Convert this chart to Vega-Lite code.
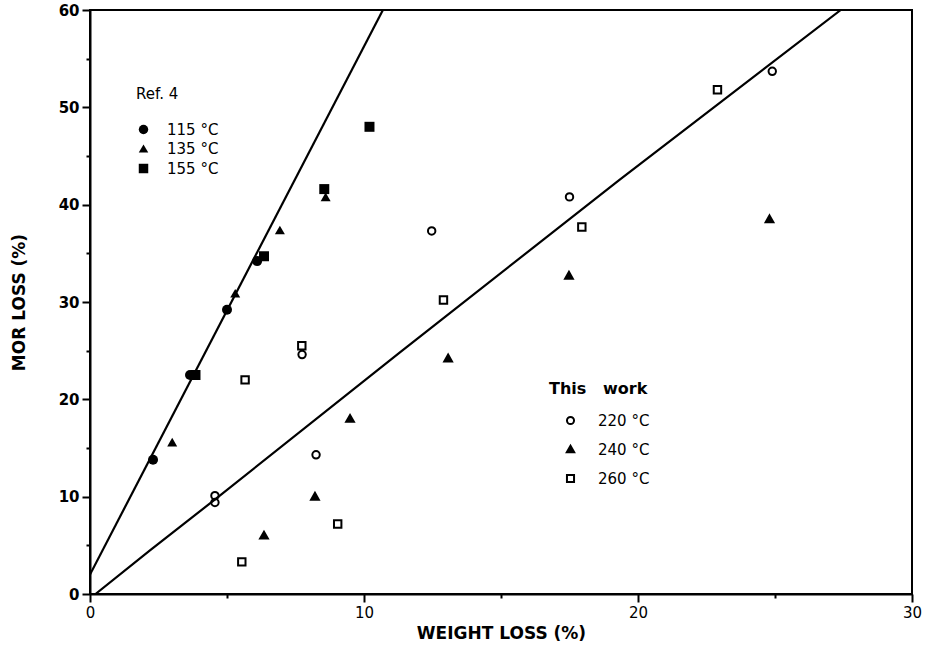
{
  "$schema": "https://vega.github.io/schema/vega-lite/v6.json",
  "width": 822,
  "height": 584,
  "autosize": {"type": "none"},
  "padding": {"left": 90, "top": 10, "right": 14, "bottom": 57},
  "background": "white",
  "config": {
    "font": "DejaVu Sans",
    "view": {"stroke": "black", "strokeWidth": 2},
    "axis": {
      "grid": false,
      "domainColor": "black",
      "domainWidth": 2,
      "tickColor": "black",
      "tickWidth": 2,
      "labelColor": "black",
      "labelFontSize": 15,
      "titleColor": "black",
      "titleFontSize": 17,
      "titleFontWeight": "bold"
    },
    "legend": {
      "titleColor": "black",
      "labelColor": "black",
      "labelFontSize": 15,
      "titleFontSize": 15
    }
  },
  "datasets": {
    "points": [
      {"group": "Ref. 4", "temp": "115 °C", "w": 2.3, "m": 13.8},
      {"group": "Ref. 4", "temp": "115 °C", "w": 3.65, "m": 22.5},
      {"group": "Ref. 4", "temp": "115 °C", "w": 5.0, "m": 29.2},
      {"group": "Ref. 4", "temp": "115 °C", "w": 6.1, "m": 34.2},
      {"group": "Ref. 4", "temp": "135 °C", "w": 3.0, "m": 15.6},
      {"group": "Ref. 4", "temp": "135 °C", "w": 5.3, "m": 30.9},
      {"group": "Ref. 4", "temp": "135 °C", "w": 6.93, "m": 37.4},
      {"group": "Ref. 4", "temp": "135 °C", "w": 8.6, "m": 40.8},
      {"group": "Ref. 4", "temp": "155 °C", "w": 3.85, "m": 22.5},
      {"group": "Ref. 4", "temp": "155 °C", "w": 6.35, "m": 34.7},
      {"group": "Ref. 4", "temp": "155 °C", "w": 8.55, "m": 41.6},
      {"group": "Ref. 4", "temp": "155 °C", "w": 10.2, "m": 48.0},
      {"group": "This work", "temp": "220 °C", "w": 4.56, "m": 10.1},
      {"group": "This work", "temp": "220 °C", "w": 4.56, "m": 9.4},
      {"group": "This work", "temp": "220 °C", "w": 7.74, "m": 24.6},
      {"group": "This work", "temp": "220 °C", "w": 8.25, "m": 14.3},
      {"group": "This work", "temp": "220 °C", "w": 12.47, "m": 37.3},
      {"group": "This work", "temp": "220 °C", "w": 17.5, "m": 40.8},
      {"group": "This work", "temp": "220 °C", "w": 24.9, "m": 53.7},
      {"group": "This work", "temp": "240 °C", "w": 6.35, "m": 6.0},
      {"group": "This work", "temp": "240 °C", "w": 8.21, "m": 10.0},
      {"group": "This work", "temp": "240 °C", "w": 9.49, "m": 18.0},
      {"group": "This work", "temp": "240 °C", "w": 13.07, "m": 24.2},
      {"group": "This work", "temp": "240 °C", "w": 17.48, "m": 32.7},
      {"group": "This work", "temp": "240 °C", "w": 24.8, "m": 38.5},
      {"group": "This work", "temp": "260 °C", "w": 5.54, "m": 3.3},
      {"group": "This work", "temp": "260 °C", "w": 5.66, "m": 22.0},
      {"group": "This work", "temp": "260 °C", "w": 7.73, "m": 25.5},
      {"group": "This work", "temp": "260 °C", "w": 9.04, "m": 7.2},
      {"group": "This work", "temp": "260 °C", "w": 12.9, "m": 30.2},
      {"group": "This work", "temp": "260 °C", "w": 17.95, "m": 37.7},
      {"group": "This work", "temp": "260 °C", "w": 22.9, "m": 51.8}
    ],
    "fits": [
      {"fit": "ref", "w": 0, "m": 2.0},
      {"fit": "ref", "w": 10.69, "m": 60},
      {"fit": "this", "w": 0.2, "m": 0},
      {"fit": "this", "w": 2.2, "m": 4.5},
      {"fit": "this", "w": 4.6, "m": 9.8},
      {"fit": "this", "w": 11.3, "m": 24.8},
      {"fit": "this", "w": 19.3, "m": 42.5},
      {"fit": "this", "w": 27.4, "m": 60}
    ]
  },
  "layer": [
    {
      "data": {"name": "fits"},
      "mark": {"type": "line", "color": "black", "strokeWidth": 2.2, "clip": true},
      "encoding": {
        "x": {
          "field": "w", "type": "quantitative",
          "scale": {"domain": [0, 30], "nice": false, "zero": false},
          "axis": {
            "title": "WEIGHT LOSS (%)",
            "values": [0, 5, 10, 15, 20, 25, 30],
            "labelExpr": "datum.value % 10 == 0 ? datum.label : ''",
            "tickSize": {"condition": {"test": "datum.value % 10 == 0", "value": 8}, "value": 4},
            "labelPadding": 3,
            "labelFlush": false,
            "titlePadding": 5
          }
        },
        "y": {
          "field": "m", "type": "quantitative",
          "scale": {"domain": [0, 60], "nice": false},
          "axis": {
            "title": "MOR LOSS (%)",
            "values": [0, 5, 10, 15, 20, 25, 30, 35, 40, 45, 50, 55, 60],
            "labelExpr": "datum.value % 10 == 0 ? datum.label : ''",
            "tickSize": {"condition": {"test": "datum.value % 10 == 0", "value": 8}, "value": 4},
            "labelFontWeight": "bold",
            "labelPadding": 3,
            "labelFlush": false,
            "titlePadding": 30
          }
        },
        "detail": {"field": "fit", "type": "nominal"}
      }
    },
    {
      "data": {"name": "points"},
      "transform": [{"filter": "datum.group == 'Ref. 4'"}],
      "mark": {"type": "point", "filled": true, "color": "black", "opacity": 1, "size": 100},
      "encoding": {
        "x": {"field": "w", "type": "quantitative"},
        "y": {"field": "m", "type": "quantitative"},
        "shape": {
          "field": "temp", "type": "nominal",
          "scale": {"domain": ["115 °C", "135 °C", "155 °C"], "range": ["circle", "triangle-up", "square"]},
          "legend": {
            "title": "Ref. 4",
            "orient": "none",
            "legendX": 46,
            "legendY": 77,
            "titleFontWeight": "normal",
            "titlePadding": 20,
            "rowPadding": 3,
            "symbolOffset": 0,
            "symbolSize": 90,
            "symbolFillColor": "black",
            "symbolStrokeColor": "black",
            "labelOffset": 16
          }
        }
      }
    },
    {
      "data": {"name": "points"},
      "transform": [{"filter": "datum.group == 'This work'"}],
      "mark": {"type": "point", "filled": false, "stroke": "black", "strokeWidth": 2, "opacity": 1, "size": 55},
      "encoding": {
        "x": {"field": "w", "type": "quantitative"},
        "y": {"field": "m", "type": "quantitative"},
        "shape": {
          "field": "temp", "type": "nominal",
          "scale": {
            "domain": ["220 °C", "240 °C", "260 °C"],
            "range": [
              "circle",
              "M0,-1.05L1.05,0.8L-1.05,0.8Z M0,-0.45L0.55,0.45L-0.55,0.45Z M0,0.05L0.2,0.35L-0.2,0.35Z",
              "square"
            ]
          },
          "legend": {
            "title": "This\u00a0\u00a0\u00a0work",
            "orient": "none",
            "legendX": 459,
            "legendY": 371,
            "titleFontWeight": "bold",
            "titleFontSize": 16,
            "titlePadding": 16,
            "rowPadding": 12,
            "symbolOffset": 14,
            "symbolSize": 50,
            "symbolStrokeWidth": 2,
            "symbolStrokeColor": "black",
            "symbolFillColor": "transparent",
            "labelOffset": 20
          }
        }
      }
    }
  ],
  "resolve": {"scale": {"shape": "independent"}, "legend": {"shape": "independent"}}
}
